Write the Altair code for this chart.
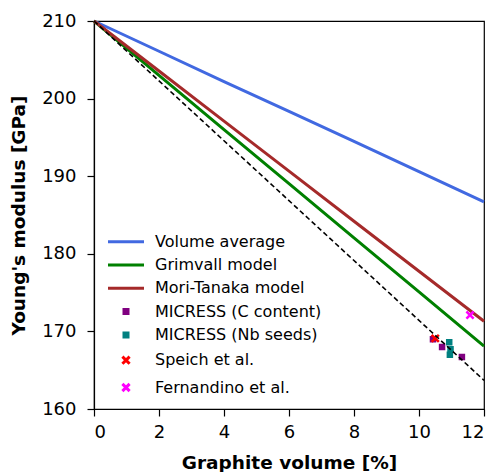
import altair as alt
import pandas as pd

# Model curves: Young's modulus vs. graphite volume fraction
model_x = [0, 2, 4, 6, 8, 10, 12]
volume_average = [210.0, 206.1, 202.2, 198.35, 194.5, 190.6, 186.7]
grimvall = [210.0, 203.0, 196.0, 189.05, 182.05, 175.1, 168.1]
mori_tanaka = [210.0, 203.55, 197.1, 190.65, 184.2, 177.75, 171.3]

# Reference (dashed) bound
bound_x = [0, 12]
bound_y = [210.0, 163.7]

# Simulation results
micress_c_x = [10.43, 10.71, 11.32]
micress_c_y = [169.0, 168.0, 166.7]
micress_nb_x = [10.93, 10.97, 10.95]
micress_nb_y = [168.6, 167.7, 167.0]

# Experimental data
speich_x = [10.5]
speich_y = [169.1]
fernandino_x = [11.57]
fernandino_y = [172.1]

series = ["Volume average", "Grimvall model", "Mori-Tanaka model",
          "MICRESS (C content)", "MICRESS (Nb seeds)",
          "Speich et al.", "Fernandino et al."]
colors = ["#4169E1", "#008000", "#A52A2A", "#800080", "#008080", "#FF0000", "#FF00FF"]

# Symbol paths (unit box), stroked
LINE_PATH = "M-4.5,0L4.5,0"
SQ_PATH = "M-0.5,-0.5L0.5,-0.5L0.5,0.5L-0.5,0.5ZM-0.5,0L0.5,0"
X_PATH = "M-0.9,-0.9L0.9,0.9M0.9,-0.9L-0.9,0.9"
shapes = [LINE_PATH, LINE_PATH, LINE_PATH, SQ_PATH, SQ_PATH, X_PATH, X_PATH]

lines_df = pd.DataFrame({
    "x": model_x * 3,
    "y": volume_average + grimvall + mori_tanaka,
    "series": [series[0]] * 7 + [series[1]] * 7 + [series[2]] * 7,
})
bound_df = pd.DataFrame({"x": bound_x, "y": bound_y})
points_df = pd.DataFrame({
    "x": micress_c_x + micress_nb_x + speich_x + fernandino_x,
    "y": micress_c_y + micress_nb_y + speich_y + fernandino_y,
    "series": [series[3]] * 3 + [series[4]] * 3 + [series[5], series[6]],
})

color_scale = alt.Scale(domain=series, range=colors)
x_enc = alt.X("x:Q", scale=alt.Scale(domain=[0, 12], nice=False),
              axis=alt.Axis(values=[0, 2, 4, 6, 8, 10, 12], title="Graphite volume [%]",
                            titleX=195, titleY=53, titleBaseline="middle"))
y_enc = alt.Y("y:Q", scale=alt.Scale(domain=[160, 210], nice=False, zero=False),
              axis=alt.Axis(values=[160, 170, 180, 190, 200, 210], title="Young's modulus [GPa]",
                            titleX=-76, titleY=194, titleBaseline="middle", titleAngle=-90))

legend = alt.Legend(title=None, orient="none", legendX=24, legendY=212.7,
                    labelFontSize=16, labelColor="black", labelLimit=400, symbolSize=64,
                    symbolStrokeWidth=3, rowPadding=7.3, labelOffset=21, padding=0)

lines = alt.Chart(lines_df).mark_line(strokeWidth=3).encode(
    x=x_enc, y=y_enc,
    color=alt.Color("series:N", scale=color_scale, legend=legend),
)

points = alt.Chart(points_df).mark_point(size=64, filled=False, opacity=1, strokeWidth=2.5).encode(
    x="x:Q", y="y:Q",
    color=alt.Color("series:N", scale=color_scale, legend=legend),
    shape=alt.Shape("series:N", scale=alt.Scale(domain=series, range=shapes), legend=legend),
)

bound = alt.Chart(bound_df).mark_line(color="black", strokeWidth=1.6, strokeDash=[5, 3]).encode(
    x="x:Q", y="y:Q",
)

chart = alt.layer(lines, points, bound).properties(
    width=390, height=388,
    autosize=alt.AutoSizeParams(type="none"),
    padding={"left": 94, "top": 21, "right": 13, "bottom": 63},
).configure(
    font="DejaVu Sans",
).configure_view(
    stroke="black", strokeWidth=1.2,
).configure_axis(
    domainColor="black", domainWidth=1.2, tickColor="black", tickWidth=1.2, tickSize=7,
    labelColor="black", labelFontSize=18, titleFontSize=18.5, titleFontWeight="bold",
    titleColor="black", grid=False, labelPadding=7,
).configure_axisY(labelPadding=11)

chart.save("out.html", embed_options={"renderer": "svg", "actions": False})
